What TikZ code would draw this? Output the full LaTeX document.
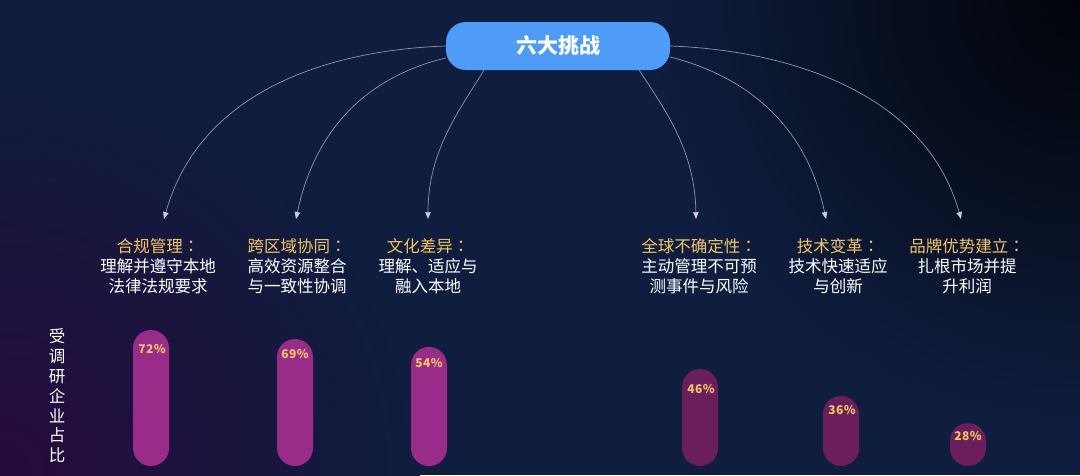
\documentclass[tikz,border=0pt]{standalone}
\usepackage{fontspec}
\setmainfont{Noto Sans CJK SC}
\newfontfamily\tcfont{Noto Sans CJK TC}
\newfontfamily\pctfont{Noto Sans CJK SC}[LetterSpace=4]
\usetikzlibrary{arrows.meta,calc}
\definecolor{bgnavy}{HTML}{0F1D3E}
\definecolor{bgdark}{HTML}{010308}
\definecolor{bgpurple}{HTML}{260A3C}
\definecolor{hdrblue}{HTML}{4F9CF8}
\definecolor{gold}{HTML}{F2C661}
\definecolor{barhi}{HTML}{992C89}
\definecolor{barlo}{HTML}{6A1E5B}
\definecolor{linkgrey}{HTML}{8E96A8}
\definecolor{tipgrey}{HTML}{C9CDD6}
\newcommand{\ttlcolon}{{\tcfont ：}}
\begin{document}
\begin{tikzpicture}[x=1pt,y=-1pt,
  link/.style={draw=linkgrey, line width=0.7pt, -{Triangle[length=7pt,width=5.5pt,color=tipgrey]}},
  hdrbox/.style={fill=hdrblue, rounded corners=20pt, minimum width=224pt, minimum height=48pt, inner sep=0pt, text=white, font=\fontsize{21}{24}\selectfont\bfseries},
  label/.style={align=center, inner sep=0pt, text=white, font=\fontsize{16.5}{20}\selectfont},
  bar/.style={fill=#1, rounded corners=18pt, minimum width=36pt, inner sep=0pt, draw=none},
  pct/.style={text=gold, inner sep=0pt, font=\pctfont\fontsize{12}{14}\selectfont\bfseries},
  vlabel/.style={align=center, inner sep=0pt, text=white, font=\fontsize{16.5}{19.8}\selectfont}
]
% background
\useasboundingbox (0,0) rectangle (1080,475);
\begin{scope}
\clip (0,0) rectangle (1080,475);
\fill[bgnavy] (0,0) rectangle (1080,475);
\shade[inner color=bgdark, outer color=bgnavy] (1080,0) circle (430);
\shade[inner color=bgpurple, outer color=bgnavy] (0,475) circle (420);
\end{scope}

% header
\node[hdrbox] (hdr) at (558,46) {六大挑战};

% labels
\node[label] (t1) at (158,266) {{\color{gold}合规管理\ttlcolon}\\理解并遵守本地\\法律法规要求};
\node[label] (t2) at (297,266) {{\color{gold}跨区域协同\ttlcolon}\\高效资源整合\\与一致性协调};
\node[label] (t3) at (428,266) {{\color{gold}文化差异\ttlcolon}\\理解、适应与\\融入本地};
\node[label] (t4) at (699,266) {{\color{gold}全球不确定性\ttlcolon}\\主动管理不可预\\测事件与风险};
\node[label] (t5) at (838,266) {{\color{gold}技术变革\ttlcolon}\\技术快速适应\\与创新};
\node[label] (t6) at (967,266) {{\color{gold}品牌优势建立\ttlcolon}\\扎根市场并提\\升利润};

% arrow end points
\coordinate (e1) at (164,219);
\coordinate (e2) at (296,219);
\coordinate (e3) at (428,219);
\coordinate (e4) at (696,219);
\coordinate (e5) at (826,219);
\coordinate (e6) at (961,219);

% connectors
\draw[link] (hdr.west) .. controls (330,50) and (200,90) .. (e1);
\draw[link] ([yshift=-12pt]hdr.west) .. controls (395,70) and (320,105) .. (e2);
\draw[link] ([xshift=38pt]hdr.south west) .. controls (460,110) and (428,150) .. (e3);
\draw[link] ([xshift=-31pt]hdr.south east) .. controls (665,110) and (695,150) .. (e4);
\draw[link] ([yshift=-11pt]hdr.east) .. controls (721,70) and (802,105) .. (e5);
\draw[link] (hdr.east) .. controls (783,50) and (925,90) .. (e6);

% vertical axis label
\node[vlabel] (v) at (57,396) {受\\调\\研\\企\\业\\占\\比};

% bars
\node[bar=barhi, minimum height=136pt] (b1) at (151,398) {};
\node[bar=barhi, minimum height=127pt] (b2) at (295,402.5) {};
\node[bar=barhi, minimum height=119pt] (b3) at (429,406.5) {};
\node[bar=barlo, minimum height=97pt] (b4) at (700,417.5) {};
\node[bar=barlo, minimum height=70pt] (b5) at (841,431) {};
\node[bar=barlo, minimum height=43pt] (b6) at (968,444.5) {};

% percentages
\node[pct] (p1) at (152,349) {72\%};
\node[pct] (p2) at (295,354) {69\%};
\node[pct] (p3) at (429,363) {54\%};
\node[pct] (p4) at (701,389) {46\%};
\node[pct] (p5) at (842,410) {36\%};
\node[pct] (p6) at (968,436) {28\%};
\end{tikzpicture}
\end{document}
